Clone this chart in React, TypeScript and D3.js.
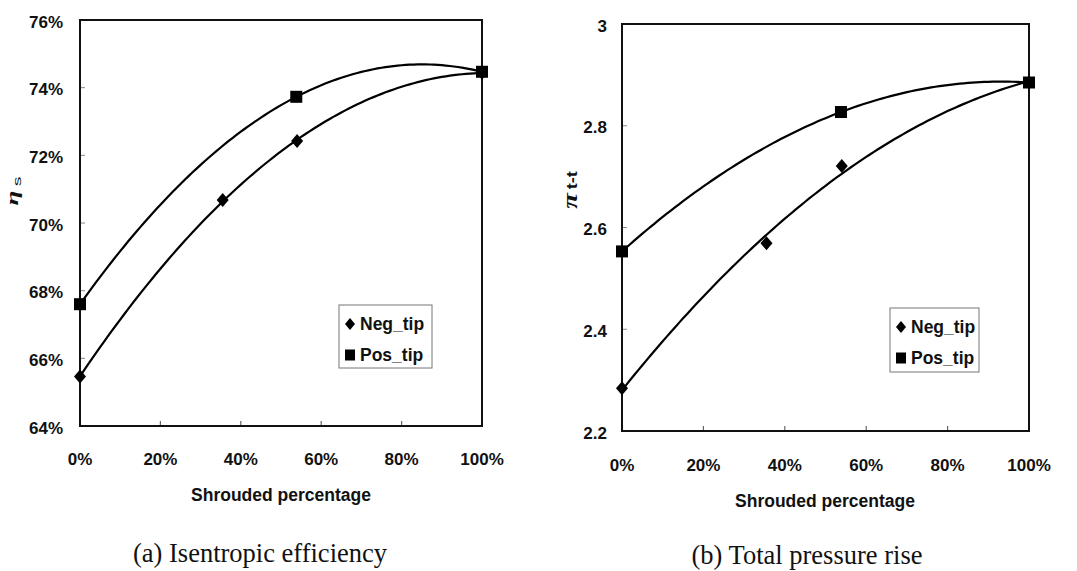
import React from "react";
import * as d3 from "d3";

// Shrouded percentage (%) at which each configuration was evaluated
const negShroud = [0, 35.5, 54, 100];
const posShroud = [0, 53.8, 100];

// (a) Isentropic efficiency, %
const effNeg = [65.46, 70.68, 72.42, 74.44];
const effPos = [67.6, 73.73, 74.47];

// (b) Total-to-total pressure ratio
const prNeg = [2.284, 2.569, 2.721, 2.885];
const prPos = [2.553, 2.827, 2.885];

const xTicks = [0, 20, 40, 60, 80, 100];
const effTicks = [64, 66, 68, 70, 72, 74, 76];
const prTicks = [2.2, 2.4, 2.6, 2.8, 3.0];

const seriesNames = ["Neg_tip", "Pos_tip"];

const SANS = "'Liberation Sans', Arial, sans-serif";
const SERIF = "'Liberation Serif', 'Times New Roman', serif";

// Least-squares 2nd-order polynomial trend line (as used in spreadsheet charts)
function quadFit(xs: number[], ys: number[]) {
  const S = [0, 0, 0, 0, 0];
  const T = [0, 0, 0];
  xs.forEach((x, i) => {
    for (let k = 0; k < 5; k++) S[k] += Math.pow(x, k);
    for (let k = 0; k < 3; k++) T[k] += Math.pow(x, k) * ys[i];
  });
  const M = [
    [S[0], S[1], S[2], T[0]],
    [S[1], S[2], S[3], T[1]],
    [S[2], S[3], S[4], T[2]],
  ];
  // Gauss-Jordan elimination
  for (let c = 0; c < 3; c++) {
    let p = c;
    for (let r = c + 1; r < 3; r++) if (Math.abs(M[r][c]) > Math.abs(M[p][c])) p = r;
    [M[c], M[p]] = [M[p], M[c]];
    for (let r = 0; r < 3; r++) {
      if (r === c) continue;
      const f = M[r][c] / M[c][c];
      for (let k = c; k < 4; k++) M[r][k] -= f * M[c][k];
    }
  }
  const a = M[0][3] / M[0][0];
  const b = M[1][3] / M[1][1];
  const c2 = M[2][3] / M[2][2];
  return (x: number) => a + b * x + c2 * x * x;
}

function Diamond({ cx, cy, h, w }: { cx: number; cy: number; h: number; w: number }) {
  return (
    <path d={`M${cx},${cy - h / 2}L${cx + w / 2},${cy}L${cx},${cy + h / 2}L${cx - w / 2},${cy}Z`} fill="#000" />
  );
}

function Square({ cx, cy, w, h }: { cx: number; cy: number; w: number; h: number }) {
  return <rect x={cx - w / 2} y={cy - h / 2} width={w} height={h} fill="#000" />;
}

type PanelProps = {
  left: number;
  right: number;
  top: number;
  bottom: number;
  yDomain: [number, number];
  yTicks: number[];
  yFormat: (v: number) => string;
  yLabelRight: number;
  xLabelY: number;
  neg: number[];
  pos: number[];
  legend: { x: number; y: number; w: number; h: number };
  titleY: number;
  titleX: number;
  caption: string;
  captionX: number;
  captionY: number;
  yTitle: React.ReactNode;
};

function Panel(p: PanelProps) {
  const x = d3.scaleLinear().domain([0, 100]).range([p.left, p.right]);
  const y = d3.scaleLinear().domain(p.yDomain).range([p.bottom, p.top]);
  const samples = d3.range(0, 100.001, 1);
  const fNeg = quadFit(negShroud, p.neg);
  const fPos = quadFit(posShroud, p.pos);
  const line = d3.line<number>().x((d) => x(d));
  const negPath = line.y((d) => y(fNeg(d)))(samples) || "";
  const posPath = line.y((d) => y(fPos(d)))(samples) || "";
  const lg = p.legend;
  return (
    <g>
      {xTicks.slice(1, -1).map((t) => (
        <line key={t} x1={x(t)} x2={x(t)} y1={p.bottom} y2={p.bottom - 5} stroke="#666" strokeWidth={1.2} />
      ))}
      {p.yTicks.slice(1, -1).map((t) => (
        <line key={t} x1={p.left} x2={p.left + 5} y1={y(t)} y2={y(t)} stroke="#888" strokeWidth={1} />
      ))}
      <rect
        x={p.left}
        y={p.top}
        width={p.right - p.left}
        height={p.bottom - p.top}
        fill="none"
        stroke="#111"
        strokeWidth={2}
      />
      {xTicks.map((t) => (
        <text
          key={t}
          x={x(t)}
          y={p.xLabelY}
          textAnchor="middle"
          dominantBaseline="central"
          fontFamily={SANS}
          fontWeight="bold"
          fontSize={17}
          fill="#111"
        >
          {t}%
        </text>
      ))}
      {p.yTicks.map((t) => (
        <text
          key={t}
          x={p.yLabelRight}
          y={y(t) + 2}
          textAnchor="end"
          dominantBaseline="central"
          fontFamily={SANS}
          fontWeight="bold"
          fontSize={17}
          fill="#111"
        >
          {p.yFormat(t)}
        </text>
      ))}
      <path d={posPath} fill="none" stroke="#000" strokeWidth={2.2} />
      <path d={negPath} fill="none" stroke="#000" strokeWidth={2.2} />
      {negShroud.map((s, i) => (
        <Diamond key={"n" + i} cx={x(s)} cy={y(p.neg[i])} h={14} w={12} />
      ))}
      {posShroud.map((s, i) => (
        <Square key={"p" + i} cx={x(s)} cy={y(p.pos[i])} w={12} h={12} />
      ))}
      <rect x={lg.x} y={lg.y} width={lg.w} height={lg.h} fill="#fff" stroke="#777" strokeWidth={1} />
      <Diamond cx={lg.x + 11} cy={lg.y + 19} h={12} w={10} />
      <Square cx={lg.x + 11} cy={lg.y + 50} w={10} h={11} />
      {seriesNames.map((n, i) => (
        <text
          key={n}
          x={lg.x + 21}
          y={lg.y + 19 + i * 31}
          dominantBaseline="central"
          fontFamily={SANS}
          fontWeight="bold"
          fontSize={17.5}
          fill="#111"
        >
          {n}
        </text>
      ))}
      <text
        x={p.titleX}
        y={p.titleY}
        textAnchor="middle"
        dominantBaseline="central"
        fontFamily={SANS}
        fontWeight="bold"
        fontSize={17.5}
        fill="#111"
      >
        Shrouded percentage
      </text>
      {p.yTitle}
      <text
        x={p.captionX}
        y={p.captionY}
        textAnchor="middle"
        dominantBaseline="central"
        fontFamily={SERIF}
        fontSize={26.5}
        fill="#111"
      >
        {p.caption}
      </text>
    </g>
  );
}

export default function App() {
  return (
    <svg
      width={1077}
      height={571}
      viewBox="0 0 1077 571"
      style={{ position: "absolute", left: 0, top: 0, background: "#fff" }}
    >
      <rect width={1077} height={571} fill="#fff" />
      <Panel
        left={80}
        right={482}
        top={20}
        bottom={426}
        yDomain={[64, 76]}
        yTicks={effTicks}
        yFormat={(v) => `${v}%`}
        yLabelRight={63}
        xLabelY={459}
        neg={effNeg}
        pos={effPos}
        legend={{ x: 339, y: 305, w: 93, h: 63 }}
        titleX={281}
        titleY={495}
        caption="(a) Isentropic efficiency"
        captionX={260}
        captionY={553}
        yTitle={
          <g transform="translate(18.3,191) rotate(-90) scale(1.7,1)">
            <text textAnchor="middle" fill="#111">
              <tspan fontFamily={SERIF} fontStyle="italic" fontWeight="bold" fontSize={16}>
                η
              </tspan>
              <tspan fontFamily={SANS} fontSize={11.5} dx={2.5} dy={2.7}>
                s
              </tspan>
            </text>
          </g>
        }
      />
      <Panel
        left={622}
        right={1029}
        top={24}
        bottom={431}
        yDomain={[2.2, 3.0]}
        yTicks={prTicks}
        yFormat={(v) => (v === 3 ? "3" : d3.format(".1f")(v))}
        yLabelRight={607}
        xLabelY={465}
        neg={prNeg}
        pos={prPos}
        legend={{ x: 890, y: 308, w: 89, h: 64 }}
        titleX={825}
        titleY={501}
        caption="(b) Total pressure rise"
        captionX={807}
        captionY={555}
        yTitle={
          <g transform="translate(577,190) rotate(-90) scale(1.3,1)">
            <text textAnchor="middle" fill="#111">
              <tspan fontFamily={SERIF} fontStyle="italic" fontWeight="bold" fontSize={22}>
                π
              </tspan>
              <tspan fontFamily={SANS} fontWeight="bold" fontSize={14} dx={3}>
                t-t
              </tspan>
            </text>
          </g>
        }
      />
    </svg>
  );
}
